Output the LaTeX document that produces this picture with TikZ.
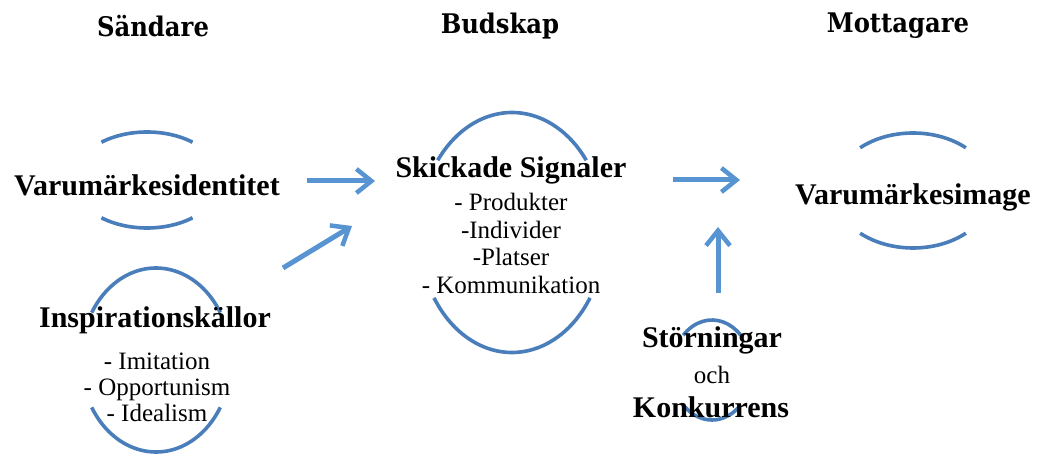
\documentclass[tikz,border=0pt]{standalone}
\usepackage{fontspec}
\setmainfont{Liberation Serif}
\newfontfamily\hdrfont{DejaVu Serif Condensed Bold}
\usetikzlibrary{arrows.meta,calc}
\definecolor{arcblue}{RGB}{74,126,187}
\definecolor{arrowblue}{RGB}{88,148,210}
\tikzset{
  arcline/.style={draw=arcblue,line width=3.6pt},
  flowarrow/.style={draw=arrowblue,line width=5pt,-{Straight Barb[length=15pt,width=24pt,line width=4.5pt]}},
  header/.style={font=\hdrfont\fontsize{27}{30}\selectfont},
  boldlabel/.style={font=\bfseries\fontsize{30}{32}\selectfont},
  sublist/.style={align=center,font=\fontsize{25}{26}\selectfont,inner sep=0pt},
}
\begin{document}
\begin{tikzpicture}[x=1pt,y=1pt]
\useasboundingbox (0,0) rectangle (1038,458);
% ellipse centres
\coordinate (cId) at (147,278);
\coordinate (cIn) at (156,98);
\coordinate (cSi) at (512,225.5);
\coordinate (cIm) at (913,267.5);
\coordinate (cSt) at (712,88);
% arcs
\draw[arcline] ($(cId)+(52:74pt and 48pt)$) arc[start angle=52,end angle=128,x radius=74pt,y radius=48pt];
\draw[arcline] ($(cId)+(232:74pt and 48pt)$) arc[start angle=232,end angle=308,x radius=74pt,y radius=48pt];
\draw[arcline] ($(cIn)+(31:75pt and 92pt)$) arc[start angle=31,end angle=149,x radius=75pt,y radius=92pt];
\draw[arcline] ($(cIn)+(211:75pt and 92pt)$) arc[start angle=211,end angle=329,x radius=75pt,y radius=92pt];
\draw[arcline] ($(cSi)+(37:93pt and 120pt)$) arc[start angle=37,end angle=143,x radius=93pt,y radius=120pt];
\draw[arcline] ($(cSi)+(213:93pt and 120pt)$) arc[start angle=213,end angle=327,x radius=93pt,y radius=120pt];
\draw[arcline] ($(cIm)+(48:79pt and 57.5pt)$) arc[start angle=48,end angle=132,x radius=79pt,y radius=57.5pt];
\draw[arcline] ($(cIm)+(228:79pt and 57.5pt)$) arc[start angle=228,end angle=312,x radius=79pt,y radius=57.5pt];
\draw[arcline] ($(cSt)+(44:40pt and 50pt)$) arc[start angle=44,end angle=136,x radius=40pt,y radius=50pt];
\draw[arcline] ($(cSt)+(228:40pt and 50pt)$) arc[start angle=228,end angle=312,x radius=40pt,y radius=50pt];
% headers
\node[header] (hS) at (153,432) {Sändare};
\node[header] (hB) at (500,432) {Budskap};
\node[header] (hM) at (898,432) {Mottagare};
% labels
\node[boldlabel] (ident) at (147,273) {Varumärkesidentitet};
\node[boldlabel] (insp) at (155,138) {Inspirationskällor};
\node[sublist] (insplist) at (157,71) {- Imitation\\- Opportunism\\- Idealism};
\node[boldlabel] (sig) at (511,288) {Skickade Signaler};
\node[sublist,font=\fontsize{25}{27.7}\selectfont] (siglist) at (511,214.5) {- Produkter\\-Individer\\-Platser\\- Kommunikation};
\node[boldlabel] (img) at (913,261) {Varumärkesimage};
\node[boldlabel] (stor) at (712,118) {Störningar};
\node[font=\fontsize{25}{26}\selectfont] (och) at (712,83) {och};
\node[boldlabel] (konk) at (711,51) {Konkurrens};
% arrows
\coordinate (a1s) at (307,277); \coordinate (a1e) at (375,277);
\coordinate (a2s) at (283,190); \coordinate (a2e) at (352,232);
\coordinate (a3s) at (673,278); \coordinate (a3e) at (740,278);
\coordinate (a4s) at (718,165); \coordinate (a4e) at (718,231);
\draw[flowarrow] (a1s) -- (a1e);
\draw[flowarrow] (a2s) -- (a2e);
\draw[flowarrow] (a3s) -- (a3e);
\draw[flowarrow] (a4s) -- (a4e);
\end{tikzpicture}
\end{document}
